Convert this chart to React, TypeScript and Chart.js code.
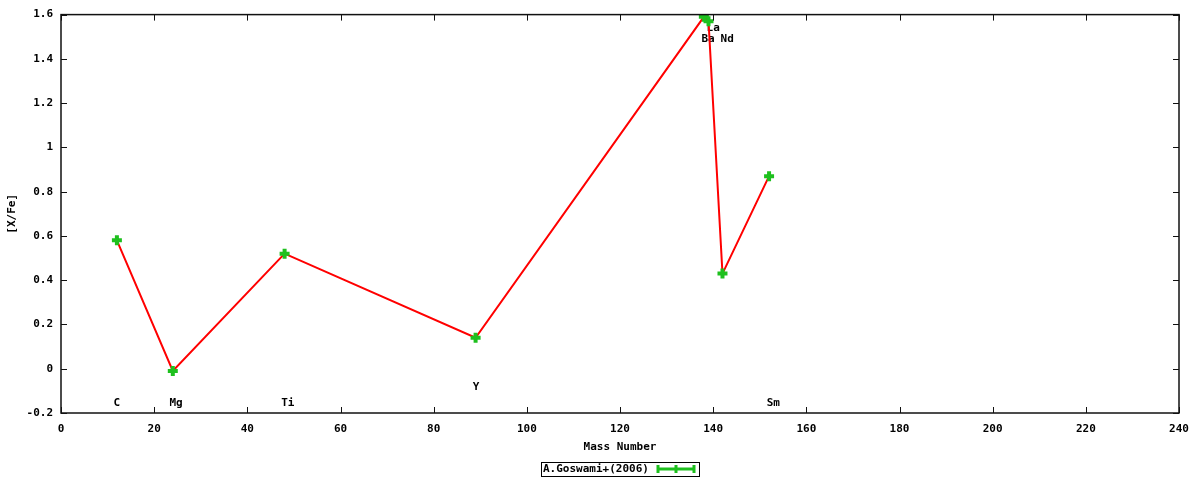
import React, { useEffect, useRef } from 'react';
import { Chart, registerables } from 'chart.js';
Chart.register(...registerables);

const massNumbers = [12, 24, 48, 89, 138, 139, 142, 152];
const xFeValues = [0.58, -0.01, 0.52, 0.14, 1.59, 1.57, 0.43, 0.87];
const elementLabels = ['C', 'Mg', 'Ti', 'Y', 'Ba', 'La', 'Nd', 'Sm'];
const labelX = [12.0, 24.7, 48.7, 89.1, 138.9, 140.0, 143.0, 152.9];
const labelY = [-0.155, -0.155, -0.155, -0.084, 1.49, 1.54, 1.49, -0.155];
const xTicks = [0, 20, 40, 60, 80, 100, 120, 140, 160, 180, 200, 220, 240];
const yTicks = [-0.2, 0, 0.2, 0.4, 0.6, 0.8, 1, 1.2, 1.4, 1.6];
const xTitle = 'Mass Number';
const yTitle = '[X/Fe]';
const legendText = 'A.Goswami+(2006)';

const FONT = 'bold 11px "DejaVu Sans Mono", monospace';
const GREEN = '#1ec01e';
const RED = '#ff0000';

const decor = {
  id: 'decor',
  beforeDatasetsDraw(chart: any) {
    const ctx = chart.ctx;
    const xs = chart.scales.x;
    const ys = chart.scales.y;
    ctx.save();
    ctx.font = FONT;
    ctx.fillStyle = '#000';
    ctx.textAlign = 'center';
    ctx.textBaseline = 'middle';
    for (let i = 0; i < elementLabels.length; i++) {
      ctx.fillText(elementLabels[i], xs.getPixelForValue(labelX[i]), ys.getPixelForValue(labelY[i]));
    }
    ctx.restore();
  },
  afterDraw(chart: any) {
    const ctx = chart.ctx;
    const a = chart.chartArea;
    const xs = chart.scales.x;
    const ys = chart.scales.y;
    ctx.save();
    // border
    ctx.strokeStyle = '#111';
    ctx.lineWidth = 1.5;
    ctx.strokeRect(a.left, a.top, a.right - a.left, a.bottom - a.top);
    // inward ticks
    ctx.lineWidth = 1;
    ctx.beginPath();
    const tl = 6;
    for (const v of xTicks) {
      const px = Math.round(xs.getPixelForValue(v)) + 0.5;
      ctx.moveTo(px, a.bottom);
      ctx.lineTo(px, a.bottom - tl);
      ctx.moveTo(px, a.top);
      ctx.lineTo(px, a.top + tl);
    }
    for (const v of yTicks) {
      const py = Math.round(ys.getPixelForValue(v)) + 0.5;
      ctx.moveTo(a.left, py);
      ctx.lineTo(a.left + tl, py);
      ctx.moveTo(a.right, py);
      ctx.lineTo(a.right - tl, py);
    }
    ctx.stroke();
    // titles
    ctx.font = FONT;
    ctx.fillStyle = '#000';
    ctx.textAlign = 'center';
    ctx.textBaseline = 'middle';
    ctx.fillText(xTitle, (a.left + a.right) / 2, 447);
    ctx.save();
    ctx.translate(12, (a.top + a.bottom) / 2);
    ctx.rotate(-Math.PI / 2);
    ctx.fillText(yTitle, 0, 0);
    ctx.restore();
    // legend
    const bx = 541, by = 462, bw = 158, bh = 14;
    ctx.strokeStyle = '#000';
    ctx.lineWidth = 1;
    ctx.strokeRect(bx + 0.5, by + 0.5, bw, bh);
    ctx.textAlign = 'left';
    ctx.fillText(legendText, bx + 2, by + 7.5);
    const lx1 = 658, lx2 = 694, ly = 469;
    ctx.strokeStyle = GREEN;
    ctx.lineWidth = 3;
    ctx.beginPath();
    ctx.moveTo(lx1, ly);
    ctx.lineTo(lx2, ly);
    ctx.moveTo(lx1, ly - 4);
    ctx.lineTo(lx1, ly + 4);
    ctx.moveTo(lx2, ly - 4);
    ctx.lineTo(lx2, ly + 4);
    ctx.moveTo((lx1 + lx2) / 2, ly - 4);
    ctx.lineTo((lx1 + lx2) / 2, ly + 4);
    ctx.stroke();
    ctx.restore();
  },
};

export default function App() {
  const ref = useRef<HTMLCanvasElement | null>(null);
  useEffect(() => {
    document.body.style.margin = '0';
    const canvas = ref.current!;
    const pts = massNumbers.map((m, i) => ({ x: m, y: xFeValues[i] }));
    const chart = new Chart(canvas, {
      type: 'scatter',
      data: {
        datasets: [
          {
            label: 'line',
            data: pts,
            showLine: true,
            borderColor: RED,
            borderWidth: 2,
            pointRadius: 0,
            tension: 0,
            order: 2,
          },
          {
            label: legendText,
            data: pts,
            showLine: false,
            pointStyle: 'cross',
            pointRadius: 5,
            pointBorderWidth: 4,
            borderColor: GREEN,
            backgroundColor: GREEN,
            order: 1,
          },
        ],
      },
      options: {
        responsive: false,
        animation: false,
        devicePixelRatio: 1,
        layout: { padding: { left: 0, top: 14, right: 21, bottom: 0 } },
        plugins: { legend: { display: false }, tooltip: { enabled: false } },
        scales: {
          x: {
            type: 'linear',
            min: 0,
            max: 240,
            grid: { display: false, drawTicks: false },
            border: { display: false },
            afterBuildTicks: (s: any) => {
              s.ticks = xTicks.map((v) => ({ value: v }));
            },
            afterFit: (s: any) => {
              s.height = 67;
            },
            ticks: {
              padding: 10,
              color: '#000',
              font: { family: '"DejaVu Sans Mono", monospace', size: 11, weight: 'bold' },
              callback: (v: any) => String(v),
            },
          },
          y: {
            type: 'linear',
            min: -0.2,
            max: 1.6,
            grid: { display: false, drawTicks: false },
            border: { display: false },
            afterBuildTicks: (s: any) => {
              s.ticks = yTicks.map((v) => ({ value: v }));
            },
            afterFit: (s: any) => {
              s.width = 61;
            },
            ticks: {
              padding: 8,
              color: '#000',
              font: { family: '"DejaVu Sans Mono", monospace', size: 11, weight: 'bold' },
              callback: (v: any) => String(Math.round(v * 10) / 10),
            },
          },
        },
      },
      plugins: [decor],
    } as any);
    return () => chart.destroy();
  }, []);
  return (
    <div style={{ width: 1200, height: 480 }}>
      <canvas ref={ref} width={1200} height={480} style={{ display: 'block' }} />
    </div>
  );
}
